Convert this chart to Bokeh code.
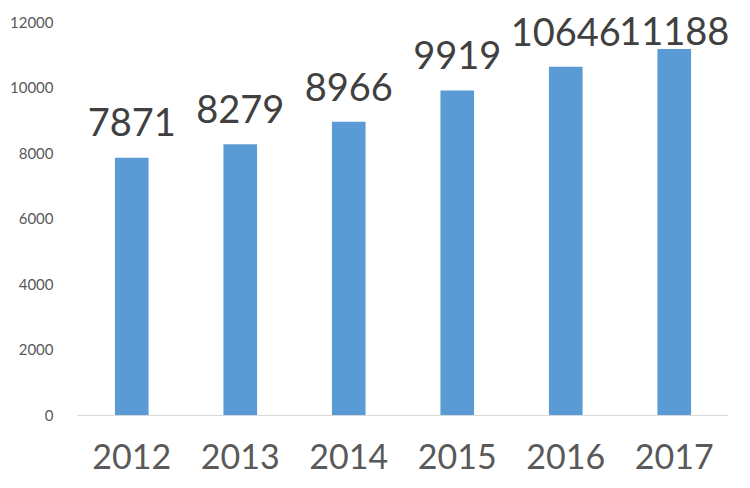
from bokeh.plotting import figure
from bokeh.models import ColumnDataSource, FactorRange, Range1d, FixedTicker, LabelSet
from bokeh.core.properties import value
from bokeh.embed import file_html
from bokeh.resources import INLINE

years = ["2012", "2013", "2014", "2015", "2016", "2017"]
counts = [7871, 8279, 8966, 9919, 10646, 11188]
y_ticks = [0, 2000, 4000, 6000, 8000, 10000, 12000]

FONT = "Lato"
Y_MAX = 12670
LABEL_GAP = 650      # data units between bar top and label baseline
LABEL_CEIL = 11300   # labels cannot go higher than this (kept inside plot)

label_y = [min(v + LABEL_GAP, LABEL_CEIL) for v in counts]
src = ColumnDataSource(dict(x=years, y=counts, ly=label_y, t=[str(v) for v in counts]))

p = figure(width=734, height=480, output_backend="svg", toolbar_location=None,
           x_range=FactorRange(*years, range_padding=0),
           y_range=Range1d(0, Y_MAX),
           min_border_left=77, min_border_right=6, min_border_top=0, min_border_bottom=65)
p.outline_line_color = None
p.background_fill_color = "white"
p.border_fill_color = "white"
p.xgrid.visible = False
p.ygrid.visible = False

p.vbar(x="x", top="y", width=0.31, source=src, fill_color="#5b9bd5", line_color=None)
labels = LabelSet(x="x", y="ly", text="t", source=src, text_align="center",
                  text_baseline="alphabetic", text_font=value(FONT),
                  text_font_size=value("38px"), text_color=value("#404040"))
p.add_layout(labels)

p.xaxis.axis_line_color = "#d9d9d9"
p.xaxis.axis_line_width = 1
p.xaxis.major_tick_line_color = None
p.xaxis.minor_tick_line_color = None
p.xaxis.major_label_text_font = FONT
p.xaxis.major_label_text_font_size = "34px"
p.xaxis.major_label_text_color = "#595959"
p.xaxis.major_label_standoff = 22

p.yaxis.ticker = FixedTicker(ticks=y_ticks)
p.yaxis.axis_line_color = None
p.yaxis.major_tick_line_color = None
p.yaxis.minor_tick_line_color = None
p.yaxis.major_label_text_font = FONT
p.yaxis.major_label_text_font_size = "15px"
p.yaxis.major_label_text_color = "#595959"
p.yaxis.major_label_standoff = 18

open("out.html", "w").write(file_html(p, INLINE))
